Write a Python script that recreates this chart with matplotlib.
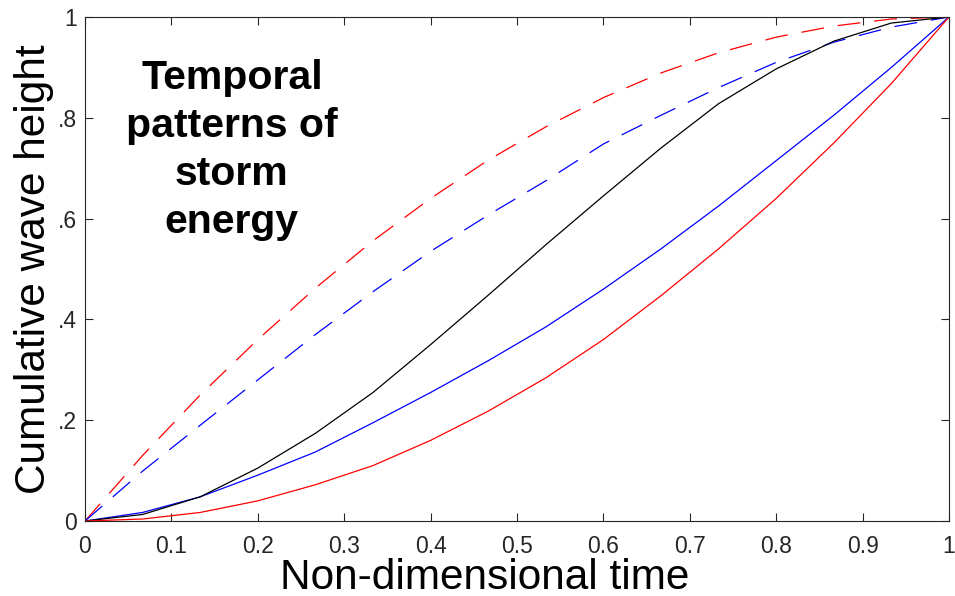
import numpy as np
import matplotlib
matplotlib.use('Agg')
import matplotlib.pyplot as plt

plt.rcParams['font.family'] = ['Liberation Sans', 'DejaVu Sans']
plt.rcParams['lines.scale_dashes'] = False

# non-dimensional time, 15 steps
t = np.arange(16) / 15.0

# cumulative wave height
red_dashed = [0, 0.13, 0.25, 0.36, 0.462, 0.556, 0.64, 0.716, 0.782, 0.84,
              0.889, 0.929, 0.96, 0.982, 0.996, 1.0]
blue_dashed = [0, 0.099, 0.19, 0.28, 0.37, 0.455, 0.535, 0.607, 0.675, 0.748,
               0.805, 0.86, 0.91, 0.95, 0.98, 1.0]
black_solid = [0, 0.013, 0.048, 0.105, 0.174, 0.255, 0.35, 0.448, 0.548, 0.645,
               0.74, 0.828, 0.897, 0.952, 0.988, 1.0]
blue_solid = [0, 0.017, 0.048, 0.091, 0.137, 0.195, 0.255, 0.318, 0.385, 0.46,
              0.54, 0.625, 0.715, 0.805, 0.9, 1.0]
red_solid = [0, 0.004, 0.017, 0.04, 0.072, 0.11, 0.16, 0.218, 0.284, 0.36,
             0.447, 0.54, 0.64, 0.75, 0.868, 1.0]

xticks = np.round(np.arange(11) / 10.0, 1)
xtick_labels = ['0', '0.1', '0.2', '0.3', '0.4', '0.5', '0.6', '0.7', '0.8', '0.9', '1']
yticks = [0, 0.2, 0.4, 0.6, 0.8, 1.0]
ytick_labels = ['0', '.2', '.4', '.6', '.8', '1']

fig = plt.figure(figsize=(9.55, 5.96), dpi=100)
ax = fig.add_axes([0.089, 0.1258, 0.9047, 0.8457])

dash = (16.5, 10)
ax.plot(t, red_dashed, color='#ff0000', lw=0.9, dashes=dash)
ax.plot(t, blue_dashed, color='#0000ff', lw=0.9, dashes=dash)
ax.plot(t, blue_solid, color='#0000ff', lw=0.9)
ax.plot(t, black_solid, color='#000000', lw=0.9)
ax.plot(t, red_solid, color='#ff0000', lw=0.9)

ax.set_xlim(0, 1)
ax.set_ylim(0, 1)
ax.set_xticks(xticks)
ax.set_xticklabels(xtick_labels)
ax.set_yticks(yticks)
ax.set_yticklabels(ytick_labels)

ax.tick_params(axis='both', direction='in', length=6, width=0.8, color='#262626',
               labelcolor='#262626', labelsize=16.5, top=True, right=True)
ax.tick_params(axis='x', pad=10)
ax.tick_params(axis='y', pad=6)
for s in ax.spines.values():
    s.set_color('#262626')
    s.set_linewidth(0.8)

ax.set_xlabel('Non-dimensional time', fontsize=30.5)
ax.set_ylabel('Cumulative wave height', fontsize=30.5)
ax.xaxis.set_label_coords(0.463, -0.074)
ax.yaxis.set_label_coords(-0.036, 0.5)

ax.text(0.17, 0.736, 'Temporal\npatterns of\nstorm\nenergy', transform=ax.transAxes,
        ha='center', va='center', fontsize=29.5, fontweight='bold', linespacing=1.34)

fig.savefig('out.png', dpi=100, facecolor='white')
